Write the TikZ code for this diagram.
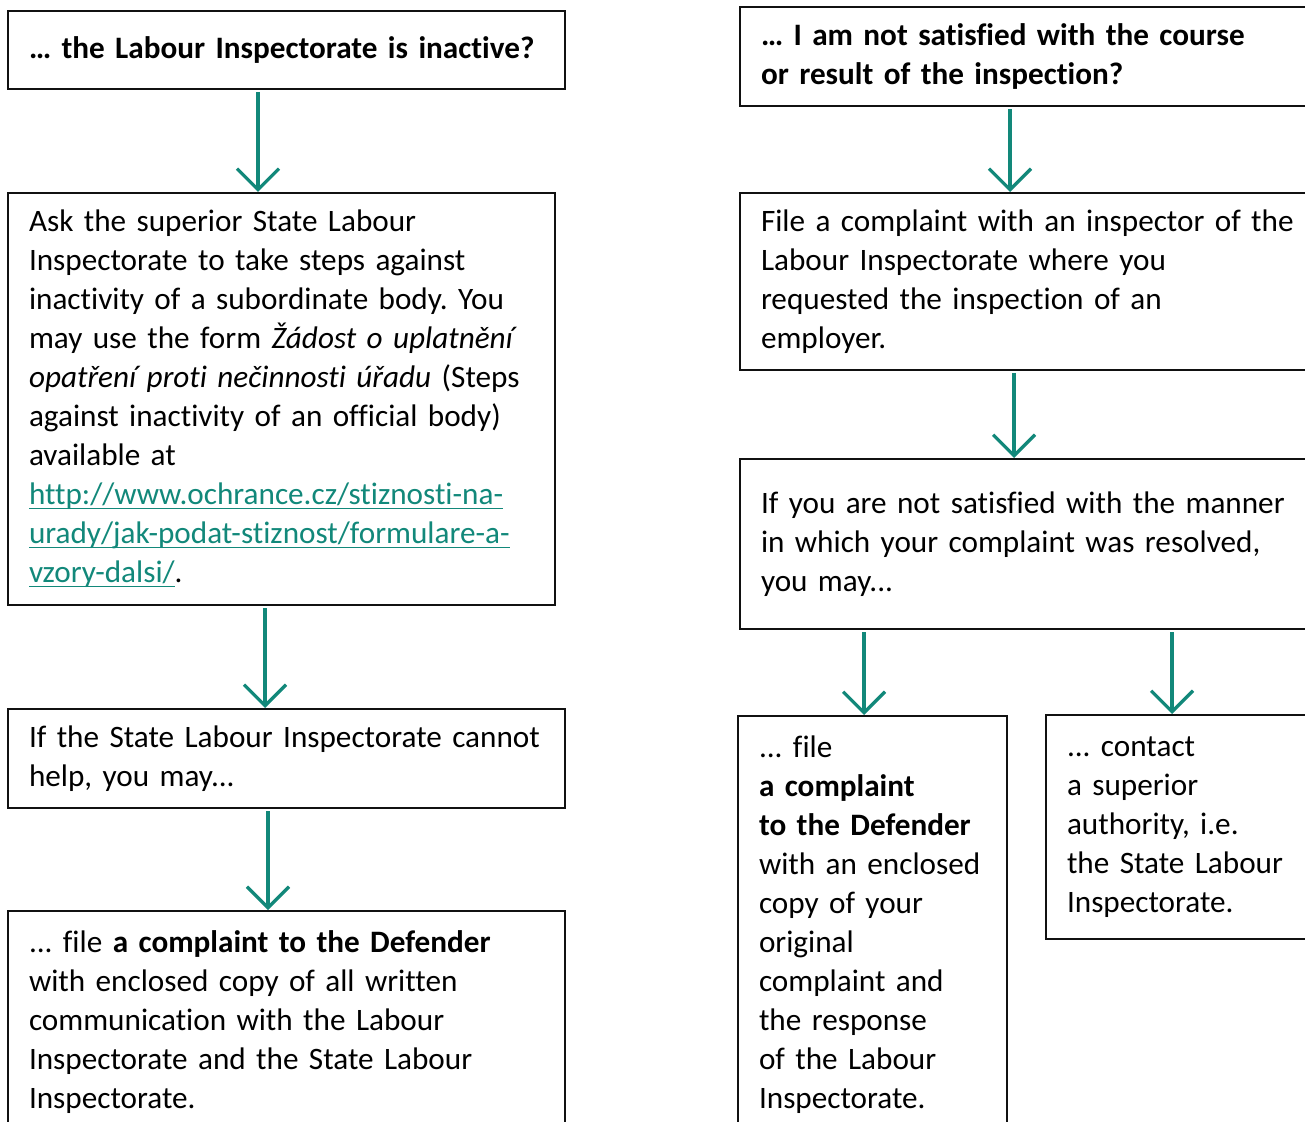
\documentclass[tikz,border=0pt]{standalone}
\usepackage{fontspec}
\setmainfont{Carlito}[Ligatures={CommonOff}]
\frenchspacing
\hyphenpenalty=10000
\definecolor{GuideTeal}{HTML}{12887A}
\definecolor{GuideInk}{HTML}{111111}
\newcommand{\weblink}[1]{\leavevmode{\color{GuideTeal}\setbox0\hbox{#1}\rlap{\rule[-2.2pt]{\wd0}{0.8pt}}\box0}}
\usetikzlibrary{arrows.meta,positioning}
\begin{document}
\begin{tikzpicture}[
    x=0.5pt, y=-0.5pt,
    box/.style={draw=GuideInk, line width=1pt, anchor=north west, align=left,
      font=\fontsize{15.6}{19.5}\selectfont,
      inner xsep=10.5pt, inner ysep=0pt},
    arr/.style={-{Straight Barb[length=10.5pt,width=21pt]}, line width=1.6pt, GuideTeal, shorten <=1pt}
  ]
    \useasboundingbox (0,0) rectangle (1305,1122);
    \clip (0,0) rectangle (1305,1122);
    \node[box, text width=257.5pt, minimum height=39pt] (inact) at (7,10)
      {\textbf{… the Labour Inspectorate is inactive?}};
    \node[box, text width=252.5pt, minimum height=206pt] (ask) at (7,192)
      {Ask the superior State Labour\\
       Inspectorate to take steps against\\
       inactivity of a subordinate body. You\\
       may use the form \textit{Žádost o uplatnění}\\
       \textit{opatření proti nečinnosti úřadu} (Steps\\
       against inactivity of an official body)\\
       available at\\
       \weblink{http://www.ochrance.cz/stiznosti-na-}\\
       \weblink{urady/jak-podat-stiznost/formulare-a-}\\
       \weblink{vzory-dalsi/}.};
    \node[box, text width=257.5pt, minimum height=49.5pt] (nohelp) at (7,708)
      {If the State Labour Inspectorate cannot\\ help, you may...};
    \node[box, text width=257.5pt, minimum height=111pt] (defleft) at (7,910)
      {... file \textbf{a complaint to the Defender}\\
       with enclosed copy of all written\\
       communication with the Labour\\
       Inspectorate and the State Labour\\
       Inspectorate.};
    \node[box, text width=279pt, minimum height=49.5pt] (course) at (739,6)
      {\textbf{… I am not satisfied with the course}\\
       \textbf{or result of the inspection?}};
    \node[box, text width=279pt, minimum height=88.5pt] (inspector) at (739,192)
      {File a complaint with an inspector of the\\
       Labour Inspectorate where you\\
       requested the inspection of an\\
       employer.};
    \node[box, text width=279pt, minimum height=85pt] (manner) at (739,458)
      {If you are not satisfied with the manner\\
       in which your complaint was resolved,\\
       you may...};
    \node[box, text width=113.5pt, minimum height=208.5pt] (defright) at (737,715)
      {... file\\
       \textbf{a complaint}\\
       \textbf{to the Defender}\\
       with an enclosed\\
       copy of your\\
       original\\
       complaint and\\
       the response\\
       of the Labour\\
       Inspectorate.};
    \node[box, text width=129pt, minimum height=112pt] (superior) at (1045,714)
      {... contact\\
       a superior\\
       authority, i.e.\\
       the State Labour\\
       Inspectorate.};
    \draw[arr] (inact.south -| 258,0) -- (ask.north -| 258,0);
    \draw[arr] (ask.south -| 265,0) -- (nohelp.north -| 265,0);
    \draw[arr] (nohelp.south -| 268,0) -- (defleft.north -| 268,0);
    \draw[arr] (course.south -| 1010,0) -- (inspector.north -| 1010,0);
    \draw[arr] (inspector.south -| 1014,0) -- (manner.north -| 1014,0);
    \draw[arr] (manner.south -| 864,0) -- (defright.north -| 864,0);
    \draw[arr] (manner.south -| 1172,0) -- (superior.north -| 1172,0);
\end{tikzpicture}
\end{document}
